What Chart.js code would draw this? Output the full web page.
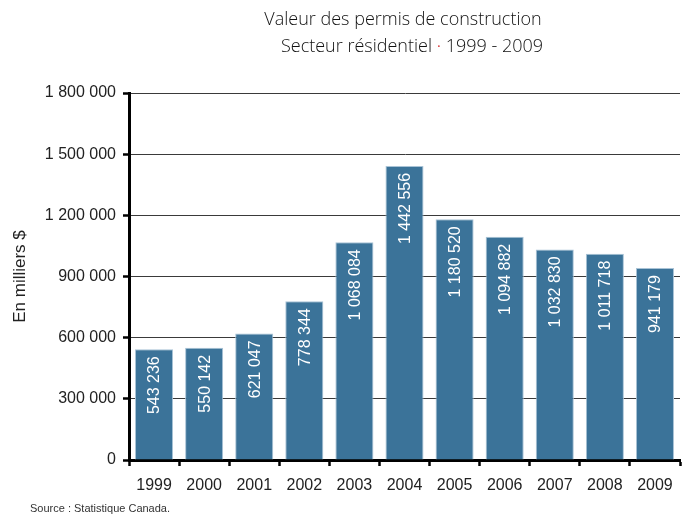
<!DOCTYPE html>
<html lang="fr">
<head>
<meta charset="utf-8">
<script src="https://cdn.jsdelivr.net/npm/chart.js@4/dist/chart.umd.min.js"></script>
<style>
  html, body { margin: 0; padding: 0; background: #fff; }
  #wrap { position: relative; width: 691px; height: 515px; }
  #chart { position: absolute; left: 0; top: 0; }
  .titre { position: absolute; font-family: 'Open Sans', sans-serif; font-weight: 300; font-size: 18px; color: #111; white-space: nowrap; transform: translateX(-50%); }
  .titre .pt { color: #d01010; }
  #source { position: absolute; left: 30px; top: 502px; font-family: 'Liberation Sans', sans-serif; font-size: 11px; color: #333; }
</style>
</head>
<body>
<div id="wrap">
  <canvas id="chart" width="691" height="515"></canvas>
  <div class="titre" style="left:403px; top:6px;">Valeur des permis de construction</div>
  <div class="titre" style="left:412px; top:33px;">Secteur résidentiel <span class="pt">·</span> 1999 - 2009</div>
  <div id="source">Source : Statistique Canada.</div>
</div>
<script>
const annees = ['1999', '2000', '2001', '2002', '2003', '2004', '2005', '2006', '2007', '2008', '2009'];
const valeurs = [543236, 550142, 621047, 778344, 1068084, 1442556, 1180520, 1094882, 1032830, 1011718, 941179];
const yMax = 1800000;
const yPas = 300000;

function formatNombre(v) {
  return String(v).replace(/\B(?=(\d{3})+(?!\d))/g, ' ');
}

// valeurs écrites à la verticale dans le haut de chaque barre
const etiquettesBarres = {
  id: 'etiquettesBarres',
  afterDatasetsDraw(chart) {
    const ctx = chart.ctx;
    const meta = chart.getDatasetMeta(0);
    ctx.save();
    ctx.fillStyle = '#ffffff';
    ctx.font = '16px "Liberation Sans"';
    ctx.textAlign = 'right';
    ctx.textBaseline = 'middle';
    meta.data.forEach((bar, i) => {
      ctx.save();
      ctx.translate(bar.x + 1, bar.y + 7);
      ctx.rotate(-Math.PI / 2);
      ctx.fillText(formatNombre(valeurs[i]), 0, 0);
      ctx.restore();
    });
    ctx.restore();
  },
};

new Chart(document.getElementById('chart'), {
  type: 'bar',
  data: {
    labels: annees,
    datasets: [{
      data: valeurs,
      backgroundColor: '#3b7399',
      borderColor: '#a9c3d6',
      borderWidth: 1,
      barPercentage: 0.76,
      categoryPercentage: 1,
    }],
  },
  options: {
    responsive: false,
    animation: false,
    layout: { padding: { left: 10, right: 11, top: 93, bottom: 0 } },
    plugins: {
      legend: { display: false },
      tooltip: { enabled: false },
    },
    scales: {
      x: {
        afterFit(scale) { scale.height = 55; },
        grid: {
          offset: true,
          drawOnChartArea: false,
          tickLength: 6,
          tickColor: '#000',
          tickWidth: 2.5,
        },
        border: { color: '#000', width: 3 },
        ticks: { color: '#222', padding: 10, font: { family: 'Liberation Sans', size: 16 } },
      },
      y: {
        min: 0,
        max: yMax,
        afterFit(scale) { scale.width = 119; },
        grid: {
          color: '#3a3a3a',
          lineWidth: 1,
          tickLength: 6,
          tickColor: '#000',
          tickWidth: 2.5,
        },
        border: { color: '#000', width: 3 },
        ticks: {
          stepSize: yPas,
          padding: 7,
          color: '#222',
          font: { family: 'Liberation Sans', size: 16 },
          callback: v => formatNombre(v),
        },
        title: {
          display: true,
          text: 'En milliers $',
          color: '#222',
          padding: 0,
          font: { family: 'Liberation Sans', size: 17 },
        },
      },
    },
  },
  plugins: [etiquettesBarres],
});
</script>
</body>
</html>
